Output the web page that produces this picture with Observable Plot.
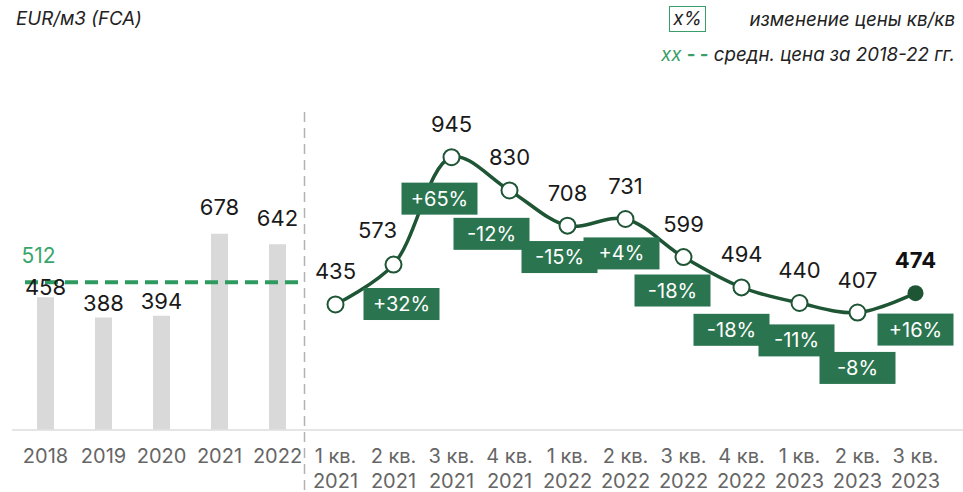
<!DOCTYPE html>
<html><head><meta charset="utf-8">
<script src="https://cdn.jsdelivr.net/npm/d3@7"></script>
<script src="https://cdn.jsdelivr.net/npm/@observablehq/plot@0.6"></script>
<style>
body{margin:0;background:#fff;font-family:Inter,"Open Sans",sans-serif;}
#wrap{position:relative;width:963px;height:492px;overflow:hidden}
.lg{position:absolute;font-style:italic;font-size:18.7px;color:#222;white-space:nowrap;line-height:24px}
.g{color:#3a9e68}
.box{display:inline-block;border:1.5px solid #3a9e68;width:35px;height:24px;text-align:center;line-height:24px}
</style></head><body><div id="wrap"></div>
<script>
// ---- data ----
const years = ["2018", "2019", "2020", "2021", "2022"];
const yearValues = [458, 388, 394, 678, 642];
const quarters = ["1 кв.\n2021", "2 кв.\n2021", "3 кв.\n2021", "4 кв.\n2021",
  "1 кв.\n2022", "2 кв.\n2022", "3 кв.\n2022", "4 кв.\n2022",
  "1 кв.\n2023", "2 кв.\n2023", "3 кв.\n2023"];
const quarterValues = [435, 573, 945, 830, 708, 731, 599, 494, 440, 407, 474];
const quarterChange = [null, 32, 65, -12, -15, 4, -18, -18, -11, -8, 16];
const averagePrice = 512;

// ---- label layout (pixel nudges) ----
const barLabelDy = [-10, -14, -14, -26, -26];
const boxDx = [8, -12, -18, -8, -4, -11, -10, -3, 0, 0];
const boxDy = [40, 42, 44, 32, 35, 34, 43, 38, 56, 37];

const yearTable = years.map((k, i) => ({k, v: yearValues[i], dy: barLabelDy[i]}));
const qTable = quarters.map((k, i) => ({k, v: quarterValues[i], c: quarterChange[i]}));
const boxes = qTable.filter(d => d.c != null);
const last = qTable[qTable.length - 1];

const DARK = "#1e5535", BOX = "#2a7550", AVG = "#2e9a60";
const fmt = c => (c > 0 ? "+" : "") + c + "%";

const marks = [
  Plot.ruleX(yearTable, {x: "k", y1: 0, y2: "v", stroke: "#d9d9d9", strokeWidth: 17}),
  Plot.ruleY([0], {stroke: "#dcdcdc", strokeWidth: 1.5}),
  Plot.ruleX([years[4]], {x: d => d, dx: 27, y1: () => 1100, y2: () => -215, stroke: "#b3b3b3", strokeWidth: 1.5, strokeDasharray: "10,6"}),
  Plot.ruleY([averagePrice], {y: d => d, x1: () => years[0], x2: () => years[4], insetLeft: -20, insetRight: -23, stroke: AVG, strokeWidth: 4, strokeDasharray: "13,7"}),
  Plot.text([averagePrice], {x: () => years[0], y: d => d, text: d => String(d), dx: -24, dy: -26, textAnchor: "start", lineAnchor: "middle", fill: "#3aa56b", fontSize: 21}),
  ...yearTable.map(d => Plot.text([d], {x: "k", y: "v", text: e => String(e.v), dy: d.dy, lineAnchor: "middle", fill: "#1a1a1a", fontSize: 22})),
  Plot.text([...years, ...quarters], {x: d => d, text: d => d, frameAnchor: "bottom", lineAnchor: "top", dy: 15, lineHeight: 1.25, fill: "#666", fontSize: 20}),
  Plot.line(qTable, {x: "k", y: "v", curve: "catmull-rom", stroke: DARK, strokeWidth: 3.5}),
  Plot.dot(qTable.slice(0, -1), {x: "k", y: "v", r: 8, fill: "white", stroke: DARK, strokeWidth: 2}),
  Plot.dot([last], {x: "k", y: "v", r: 8, fill: DARK}),
  Plot.text(qTable.slice(0, -1), {filter: (d, i) => i !== 1, x: "k", y: "v", text: d => String(d.v), dy: -32, lineAnchor: "middle", fill: "#1a1a1a", fontSize: 22}),
  Plot.text([qTable[1]], {x: "k", y: "v", text: d => String(d.v), dx: -16, dy: -34, lineAnchor: "middle", fill: "#1a1a1a", fontSize: 22}),
  Plot.text([last], {x: "k", y: "v", text: d => String(d.v), dy: -32, lineAnchor: "middle", fill: "#111", fontSize: 22, fontWeight: 700}),
  ...boxes.map((d, i) => Plot.text([d], {x: "k", y: "v", text: e => fmt(e.c), dx: boxDx[i], dy: boxDy[i], lineAnchor: "middle", fill: "#fffffe", fontSize: 20}))
];

const svg = Plot.plot({
  width: 963, height: 492,
  marginLeft: 12, marginRight: 0, marginTop: 112, marginBottom: 62.5,
  style: {fontFamily: "Inter, 'Open Sans', sans-serif", background: "transparent", overflow: "visible"},
  x: {type: "point", domain: [...years, ...quarters], range: [39.5, 920], padding: 0, axis: null},
  y: {domain: [0, 1100], axis: null},
  marks
});
const wrap = document.getElementById("wrap");
wrap.appendChild(svg);

// green boxes behind the percentage labels
svg.querySelectorAll('g[fill="#fffffe"] text').forEach(t => {
  const bb = t.getBBox();
  const r = document.createElementNS("http://www.w3.org/2000/svg", "rect");
  const w = 76, h = 32;
  r.setAttribute("x", bb.x + bb.width / 2 - w / 2);
  r.setAttribute("y", bb.y + bb.height / 2 - h / 2);
  r.setAttribute("width", w);
  r.setAttribute("height", h);
  r.setAttribute("fill", BOX);
  if (t.getAttribute("transform")) r.setAttribute("transform", t.getAttribute("transform"));
  t.parentNode.insertBefore(r, t);
});

// legend / header
const add = (html, css) => { const d = document.createElement("div"); d.className = "lg"; d.innerHTML = html; Object.assign(d.style, css); wrap.appendChild(d); };
add("EUR/м3 (FCA)", {left: "16px", top: "7px"});
add('<span class="box">x%</span>', {left: "669px", top: "6px"});
add("изменение цены кв/кв", {right: "8px", top: "8px"});
add('<span class="g">xx</span> <span class="g" style="font-weight:700;font-style:normal">- -</span> средн. цена за 2018-22 гг.', {right: "8px", top: "43px"});
</script>
</body></html>
